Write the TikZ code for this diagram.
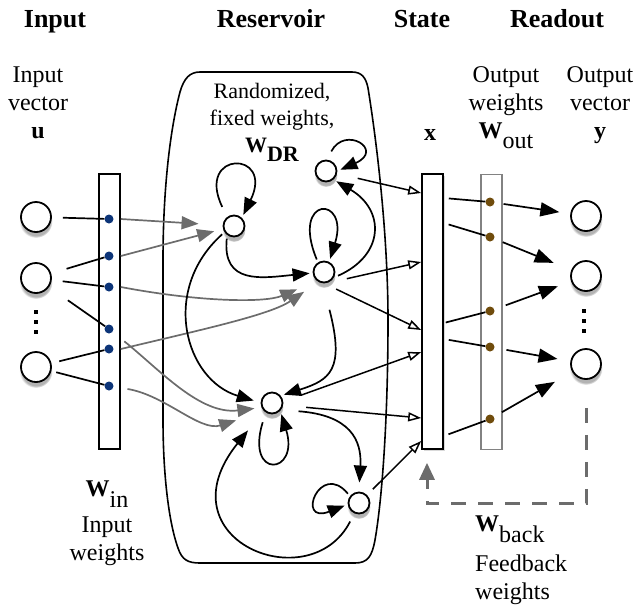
\documentclass[tikz,border=0pt]{standalone}
\usepackage{fontspec}
\setmainfont{Liberation Serif}
\usetikzlibrary{arrows.meta,shadows}
\definecolor{inblue}{RGB}{12,52,120}
\definecolor{outbrown}{RGB}{112,76,12}
\definecolor{wgray}{RGB}{108,108,108}
\newcommand{\wmat}[2][0.42em]{\textbf{W}\raisebox{-#1}{#2}}
\tikzset{
  unit/.style={circle, draw, line width=1.8pt, fill=white, minimum size=30pt, inner sep=0pt,
    circular drop shadow={shadow xshift=0pt, shadow yshift=-4pt, opacity=0.6}},
  neuron/.style={unit, minimum size=21pt, outer sep=4pt},
  bar/.style={draw, line width=1.6pt, fill=white, minimum width=21pt, minimum height=275pt, inner sep=0pt},
  wdot/.style={circle, fill=#1, minimum size=9pt, inner sep=0pt},
  wire/.style={line width=1.7pt},
  syn/.style={line width=1.7pt, -{Triangle[length=17pt,width=13pt]}},
  inw/.style={line width=1.7pt, wgray, -{Triangle[length=17pt,width=13pt]}},
  st/.style={line width=1.5pt, -{Triangle[open,length=13pt,width=9pt]}},
  outarr/.style={line width=1.7pt, -{Triangle[length=19pt,width=14pt]}},
  fb/.style={line width=3pt, wgray, dash pattern=on 15pt off 12pt, -{Triangle[length=17pt,width=15pt]}},
  head/.style={font=\fontsize{26}{30}\selectfont\bfseries, inner sep=0pt, anchor=base},
  lbl/.style={font=\fontsize{24}{28}\selectfont, align=center, inner sep=0pt}
}
\begin{document}
\begin{tikzpicture}[x=1pt,y=1pt]
\useasboundingbox (0,0) rectangle (636,-606);
\node[head] (hin) at (55,-27) {Input};
\node[head] (hres) at (271,-27) {Reservoir};
\node[head] (hst) at (422,-27) {State};
\node[head] (hro) at (557,-27) {Readout};
\node[lbl, anchor=north] (ulab) at (38,-67) {Input\\vector\\\textbf{u}};
\node[lbl, anchor=north] (wolab) at (506,-66) {Output\\weights\\\wmat{out}};
\node[lbl, anchor=north] (ylab) at (600,-66) {Output\\vector\\\textbf{y}};
\node[lbl, anchor=base] (xlab) at (430,-140) {\textbf{x}};
\node[lbl, anchor=north] (wilab) at (107,-481) {\wmat{in}\\[8pt]Input\\weights};
\node[lbl, anchor=north west, align=left] (wblab) at (475,-516) {\wmat{back}\\[12pt]Feedback\\weights};

\draw[line width=1.6pt] (200,-72) -- (352,-72) .. controls (362,-72) and (366,-78) .. (368,-88)
  .. controls (378,-150) and (388,-240) .. (388,-320) .. controls (388,-420) and (382,-500) .. (375,-540)
  .. controls (372,-556) and (368,-563) .. (355,-563) -- (200,-563) .. controls (188,-563) and (182,-560) .. (178,-548)
  .. controls (168,-520) and (163,-470) .. (163,-420) -- (163,-260) .. controls (163,-190) and (170,-130) .. (180,-92)
  .. controls (184,-78) and (190,-72) .. (200,-72) -- cycle;
\node[lbl, font=\fontsize{22}{27}\selectfont, anchor=north] (wdr) at (272,-83) {Randomized,\\fixed weights,\\\wmat[0.4em]{\textbf{DR}}};

\node[unit] (u1) at (36,-217) {};
\node[unit] (u2) at (36,-278) {};
\node[unit] (u3) at (36,-367) {};
\foreach \y in {312,322,332} \fill (34,-\y-2) rectangle ++(4,4);
\node[bar] (win) at (109.5,-311.5) {};
\foreach \n/\y in {1/219,2/256,3/287,4/329,5/349,6/386}
  \node[wdot=inblue] (i\n) at (109,-\y) {};

\node[bar, drop shadow={shadow xshift=2pt, shadow yshift=-2pt, opacity=0.3}] (xbar) at (432.5,-311.5) {};
\node[bar, draw=wgray!85] (wout) at (491.5,-312) {};
\foreach \n/\y in {1/202,2/237,3/311,4/347,5/419}
  \node[wdot=outbrown] (o\n) at (490,-\y) {};
\node[unit] (y1) at (586,-216) {};
\node[unit] (y2) at (586,-276) {};
\node[unit] (y3) at (586,-364) {};
\foreach \y in {311,321,331} \fill (582,-\y-2) rectangle ++(4,4);

\node[neuron] (r1) at (234,-226) {};
\node[neuron] (r2) at (326,-171) {};
\node[neuron] (r3) at (324,-272) {};
\node[neuron] (r4) at (272,-403) {};
\node[neuron] (r5) at (359,-503) {};

\draw[wire, shorten <=11pt] (u1) -- (i1);
\draw[wire, shorten <=16pt] (u2) -- (i2);
\draw[wire, shorten <=11pt] (u2) -- (i3);
\draw[wire, shorten <=23pt] (u2) -- (i4);
\draw[wire, shorten <=8pt] (u3) -- (i5);
\draw[wire, shorten <=5pt] (u3) -- (i6);

\draw[inw, shorten >=21pt] (win.east |- i1) -- (r1);
\draw[inw, shorten >=6pt] (win.east |- i2) -- (r1);
\draw[inw, shorten >=18pt] (win.east |- i3) .. controls (200,-302) and (265,-303) .. (r3.225);
\draw[inw, shorten >=14pt] (win.east |- i5) .. controls (200,-330) and (270,-315) .. (r3.235);
\draw[inw, shorten <=15pt, shorten >=4pt] (i4) .. controls (160,-370) and (200,-415) .. (r4.200);
\draw[inw, shorten <=14pt, shorten >=26pt] (i6) .. controls (165,-395) and (200,-432) .. (r4.220);

\draw[syn, shorten <=8pt] (r1.125) .. controls (195,-150) and (275,-150) .. (r1.50);
\draw[syn, shorten <=6pt] (r2.80) .. controls (345,-125) and (385,-150) .. (r2.5);
\draw[syn] (r1.240) .. controls (222,-285) and (262,-278) .. (r3.185);
\draw[syn] (r3.120) .. controls (290,-195) and (350,-195) .. (r3.65);
\draw[syn] (r3.-15) .. controls (385,-255) and (385,-210) .. (r2.-45);
\draw[syn, shorten <=24pt] (r3.268) .. controls (345,-370) and (330,-380) .. (r4.35);
\draw[syn, shorten >=4pt] (r1.215) .. controls (160,-290) and (185,-380) .. (r4.175);
\draw[syn, shorten <=7pt] (r4.240) .. controls (245,-480) and (300,-475) .. (r4.-50);
\draw[syn, shorten <=14pt, shorten >=6pt] (r4.-30) .. controls (350,-415) and (362,-440) .. (r5.north);
\draw[syn] (r5.140) .. controls (320,-460) and (295,-525) .. (r5.190);
\draw[syn, shorten <=6pt, shorten >=22pt] (r5.245) .. controls (310,-600) and (160,-540) .. (r4.225);

\draw[st, shorten <=18pt] (r2) -- (xbar.west |- 0,-193);
\draw[st, shorten <=12pt] (r3.-40) -- (xbar.west |- 0,-262);
\draw[st, shorten <=8pt] (r3.-70) -- (xbar.west |- 0,-330);
\draw[st, shorten <=16pt] (r4.10) -- (xbar.west |- 0,-352);
\draw[st, shorten <=20pt] (r4.-10) -- (xbar.west |- 0,-418);
\draw[st, shorten <=5pt] (r5.45) -- (xbar.west |- 0,-441);

\draw[wire, shorten <=5pt] (xbar.east |- 0,-198) -- (o1);
\draw[wire, shorten <=5pt] (xbar.east |- 0,-223) -- (o2);
\draw[wire, shorten <=2pt] (xbar.east |- 0,-323) -- (o3);
\draw[wire, shorten <=5pt] (xbar.east |- 0,-339) -- (o4);
\draw[wire, shorten <=5pt] (xbar.east |- 0,-436) -- (o5);

\draw[outarr, shorten <=9pt, shorten >=11pt] (o1) -- (y1);
\draw[outarr, shorten <=9pt, shorten >=19pt] (o2) -- (y2);
\draw[outarr, shorten <=12pt, shorten >=14pt] (o3) -- (y2);
\draw[outarr, shorten <=12pt, shorten >=13pt] (o4) -- (y3);
\draw[outarr, shorten <=9pt, shorten >=20pt] (o5) -- (y3);

\draw[fb, shorten <=28pt] (y3.south) |- ([xshift=-5.5pt,yshift=-54pt]xbar.south) -- ([xshift=-5.5pt,yshift=-13pt]xbar.south);
\end{tikzpicture}
\end{document}
